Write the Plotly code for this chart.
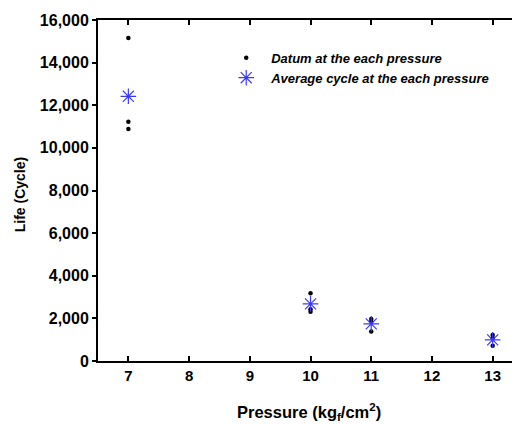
import plotly.graph_objects as go

# Raw measurements (pressure in kgf/cm^2, life in cycles)
datum_pressure = [7, 7, 7, 10, 10, 10, 11, 11, 11, 13, 13, 13]
datum_life = [15150, 11230, 10890, 3180, 2430, 2310, 1970, 1840, 1380, 1220, 1070, 720]

# Average cycle at each pressure
avg_pressure = [7, 10, 11, 13]
avg_life = [12420, 2680, 1740, 990]

x_ticks = [7, 8, 9, 10, 11, 12, 13]
y_ticks = [0, 2000, 4000, 6000, 8000, 10000, 12000, 14000, 16000]

FONT = "Liberation Sans, Arial, sans-serif"

fig = go.Figure()
fig.add_trace(go.Scatter(
    x=datum_pressure, y=datum_life, mode="markers",
    name="<b><i>Datum at the each pressure</i></b>",
    marker=dict(symbol="circle", size=4.5, color="black"),
))
fig.add_trace(go.Scatter(
    x=avg_pressure, y=avg_life, mode="markers",
    name="<b><i>Average cycle at the each pressure</i></b>",
    marker=dict(symbol="asterisk-open", size=13, color="#3a3aff",
                line=dict(color="#3a3aff", width=1.2)),
))
# invisible trace on the right y-axis to draw inward ticks on the right edge
fig.add_trace(go.Scatter(x=[7], y=[0], yaxis="y2", mode="markers",
                         marker=dict(opacity=0), showlegend=False, hoverinfo="skip"))

fig.update_layout(
    width=512, height=416,
    margin=dict(l=90, r=0, t=12, b=63, autoexpand=False),
    paper_bgcolor="white", plot_bgcolor="white",
    font=dict(family=FONT, color="black"),
    showlegend=True,
    legend=dict(x=0.292, y=0.933, xanchor="left", yanchor="top",
                bgcolor="rgba(0,0,0,0)", font=dict(size=13, family=FONT),
                itemsizing="trace", itemwidth=40, tracegroupgap=0),
    xaxis=dict(
        range=[6.5, 13.45], tickvals=x_ticks, ticktext=[f"<b>{v}</b>" for v in x_ticks],
        ticks="inside", ticklen=5, tickwidth=1.5, tickcolor="black",
        showline=True, linecolor="black", linewidth=2, mirror="ticks",
        showgrid=False, zeroline=False, automargin=False,
        tickfont=dict(size=15, family=FONT),
    ),
    yaxis=dict(
        range=[0, 16000], tickvals=y_ticks,
        ticktext=[f"<b>{v:,}</b>" for v in y_ticks],
        ticks="outside", ticklen=4, tickwidth=1.5, tickcolor="black",
        showline=True, linecolor="black", linewidth=2,
        showgrid=False, zeroline=False, automargin=False,
        tickfont=dict(size=16, family=FONT),
    ),
    yaxis2=dict(
        range=[0, 16000], tickvals=y_ticks, overlaying="y", side="right",
        ticks="inside", ticklen=4, tickwidth=1.5, tickcolor="black",
        showticklabels=False, showline=False, showgrid=False, zeroline=False,
        automargin=False,
    ),
    annotations=[
        dict(text="<b>Pressure (kg<sub>f</sub>/cm<sup>2</sup>)</b>",
             xref="paper", yref="paper", x=0.501, y=-0.15,
             xanchor="center", yanchor="middle", showarrow=False,
             font=dict(size=16.5, family=FONT)),
        dict(text="<b>Life (Cycle)</b>",
             xref="paper", yref="paper", x=-0.184, y=0.487, textangle=-90,
             xanchor="center", yanchor="middle", showarrow=False,
             font=dict(size=14, family=FONT)),
    ],
)

fig.write_html("out.html")
